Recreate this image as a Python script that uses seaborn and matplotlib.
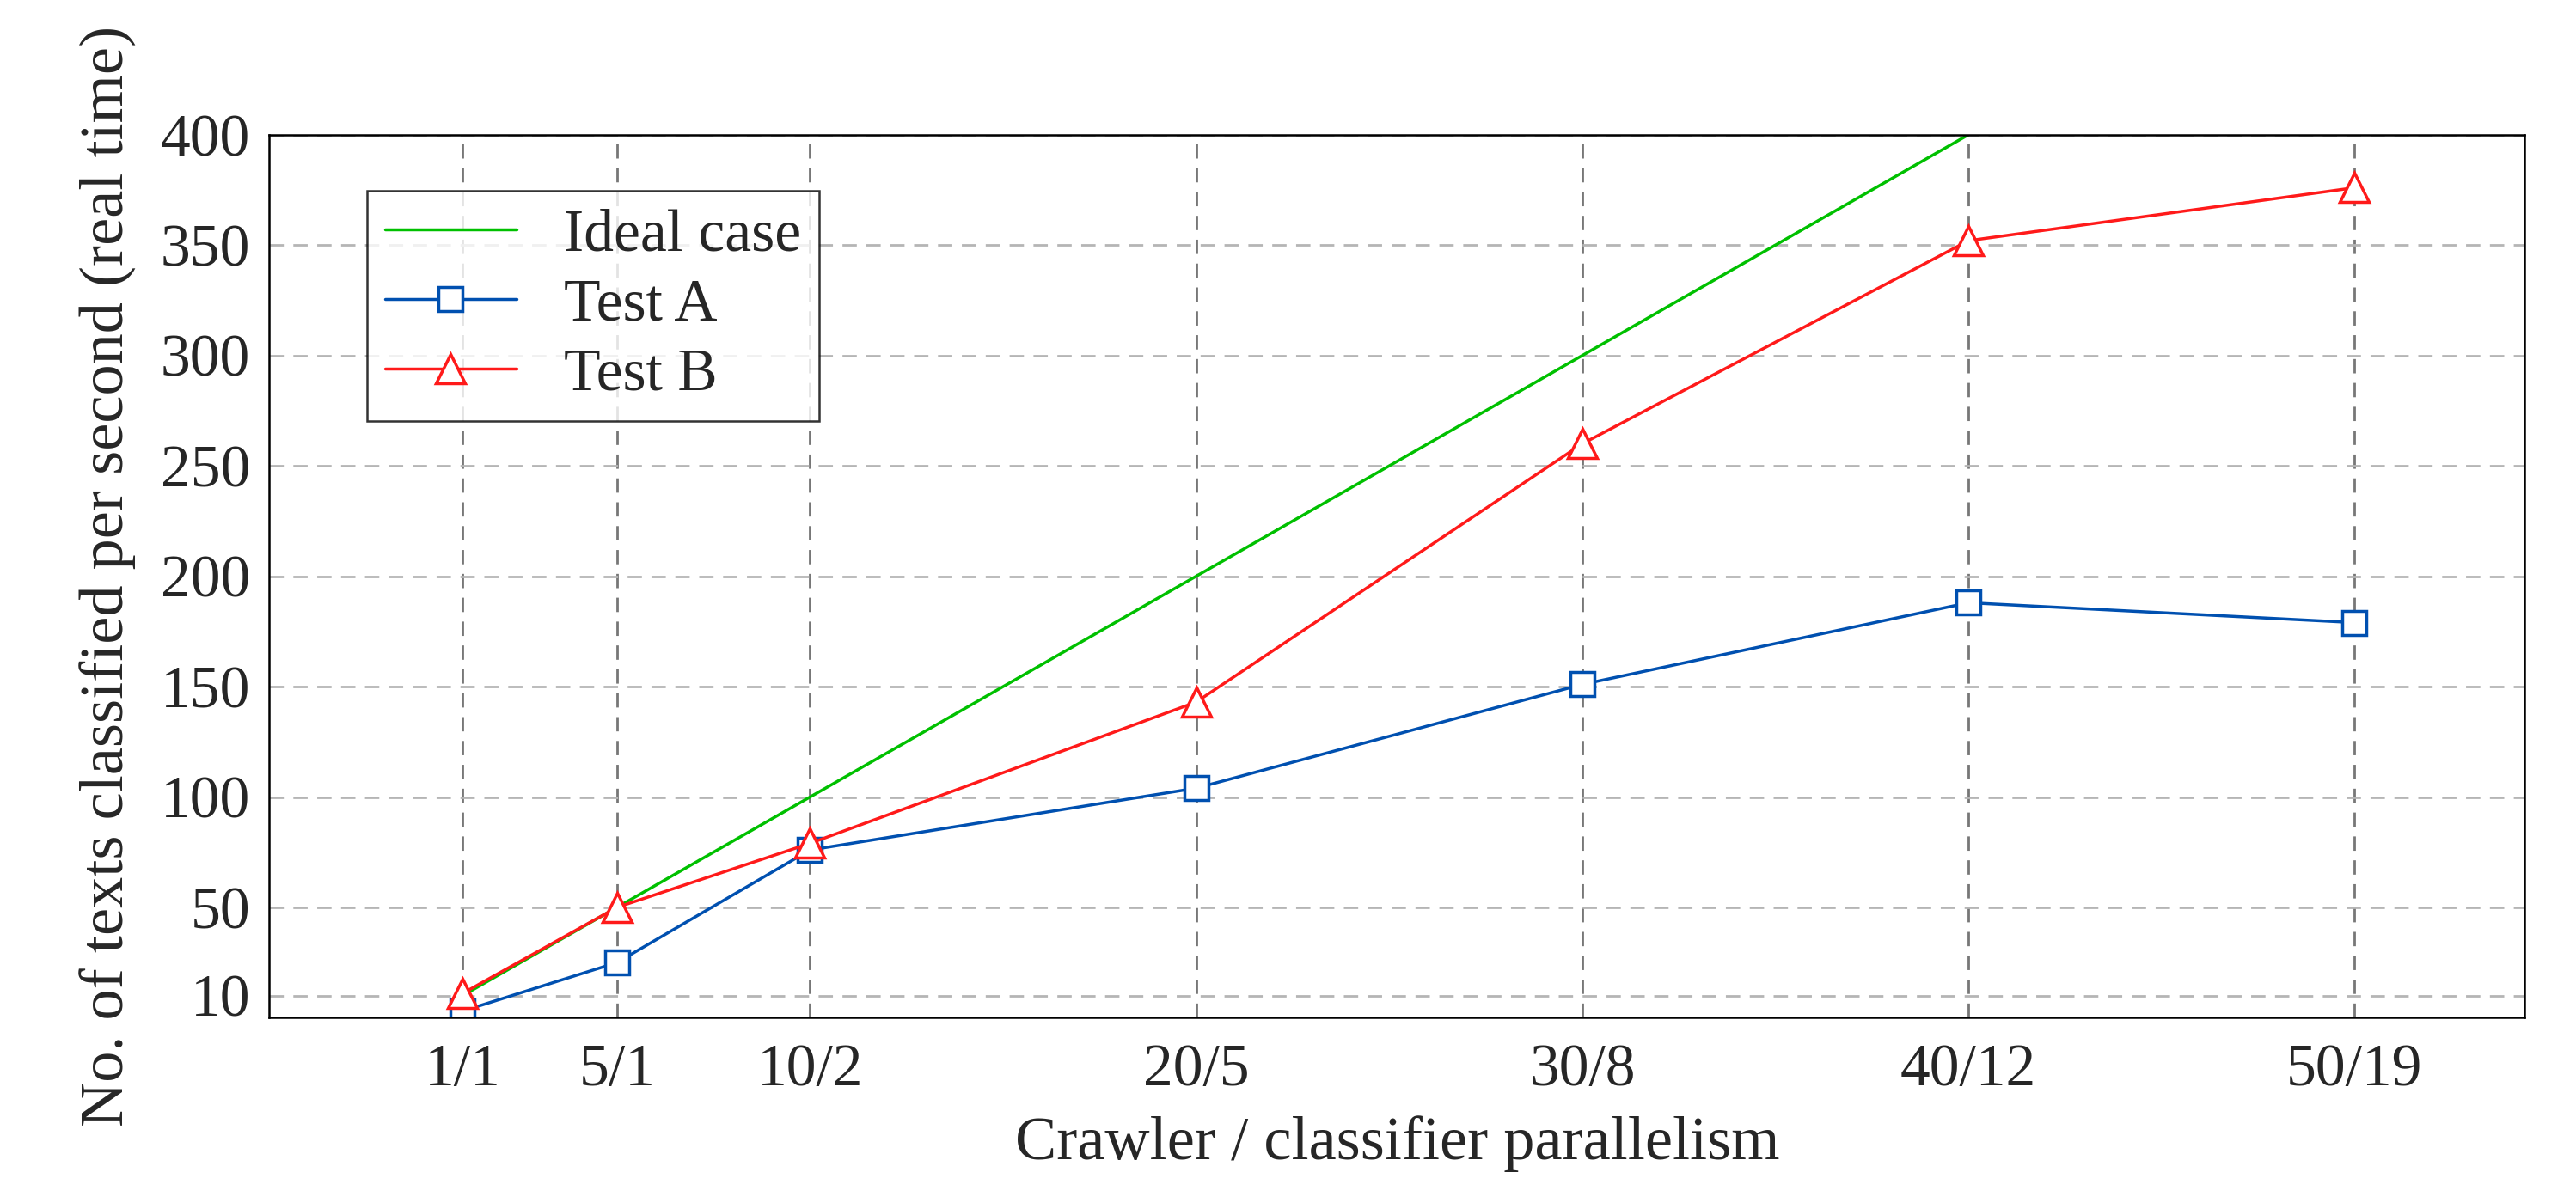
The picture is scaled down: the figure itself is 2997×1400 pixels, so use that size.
import numpy as np
import pandas as pd
import seaborn as sns
import matplotlib.pyplot as plt

# data
parallelism = [1, 5, 10, 20, 30, 40, 50]
tick_labels = ["1/1", "5/1", "10/2", "20/5", "30/8", "40/12", "50/19"]
ideal_x = [1, 5, 10, 20, 30, 40]
ideal_y = [10, 50, 100, 200, 300, 400]
test_a = [3, 25, 76, 104, 151, 188, 179]
test_b = [11, 50, 79, 143, 260, 352, 376]
y_ticks = [10, 50, 100, 150, 200, 250, 300, 350, 400]

sns.set_style("white")
plt.rcParams['font.family'] = ['Liberation Serif', 'DejaVu Serif']

df_ideal = pd.DataFrame({"x": ideal_x, "y": ideal_y})
df_a = pd.DataFrame({"x": parallelism, "y": test_a})
df_b = pd.DataFrame({"x": parallelism, "y": test_b})

fig = plt.figure(figsize=(29.97, 14), dpi=100)
ax = fig.add_axes([0.1046, 0.154, 0.8754, 0.734])

sns.lineplot(data=df_ideal, x="x", y="y", ax=ax, color="#00c000", lw=2.5, label="Ideal case")
sns.lineplot(data=df_a, x="x", y="y", ax=ax, color="#0050b0", lw=2.5, marker="s", markersize=20,
             markerfacecolor="white", markeredgecolor="#0050b0", markeredgewidth=2.5, label="Test A")
sns.lineplot(data=df_b, x="x", y="y", ax=ax, color="#ff1a1a", lw=2.5, marker="^", markersize=24,
             markerfacecolor="white", markeredgecolor="#ff1a1a", markeredgewidth=2.5, label="Test B")

ax.set_xlim(-4, 54.4)
ax.set_ylim(0, 400)
ax.set_xticks(parallelism)
ax.set_xticklabels(tick_labels)
ax.set_yticks(y_ticks)
ax.tick_params(labelsize=50, direction="in", length=8, width=1.5)
ax.tick_params(axis="x", pad=22)
ax.tick_params(axis="y", pad=16)
for x in parallelism:
    ax.axvline(x, color="#777777", ls=(0, (6, 4)), lw=2, zorder=0)
for y in y_ticks:
    ax.axhline(y, color="#b5b5b5", ls=(0, (6, 4)), lw=2, zorder=0)
for s in ax.spines.values():
    s.set_color("black")
    s.set_linewidth(1.8)

ax.set_xlabel("Crawler / classifier parallelism", fontsize=52, labelpad=14)
ax.set_ylabel("No. of texts classified per second (real time)", fontsize=52, labelpad=20)

leg = ax.legend(loc="upper left", bbox_to_anchor=(0.03, 0.97), fontsize=50, frameon=True,
                fancybox=False, edgecolor="black", handlelength=2.2, borderpad=0.3,
                labelspacing=0.25)
leg.get_frame().set_linewidth(1.8)

fig.savefig("out.png", dpi=100)
